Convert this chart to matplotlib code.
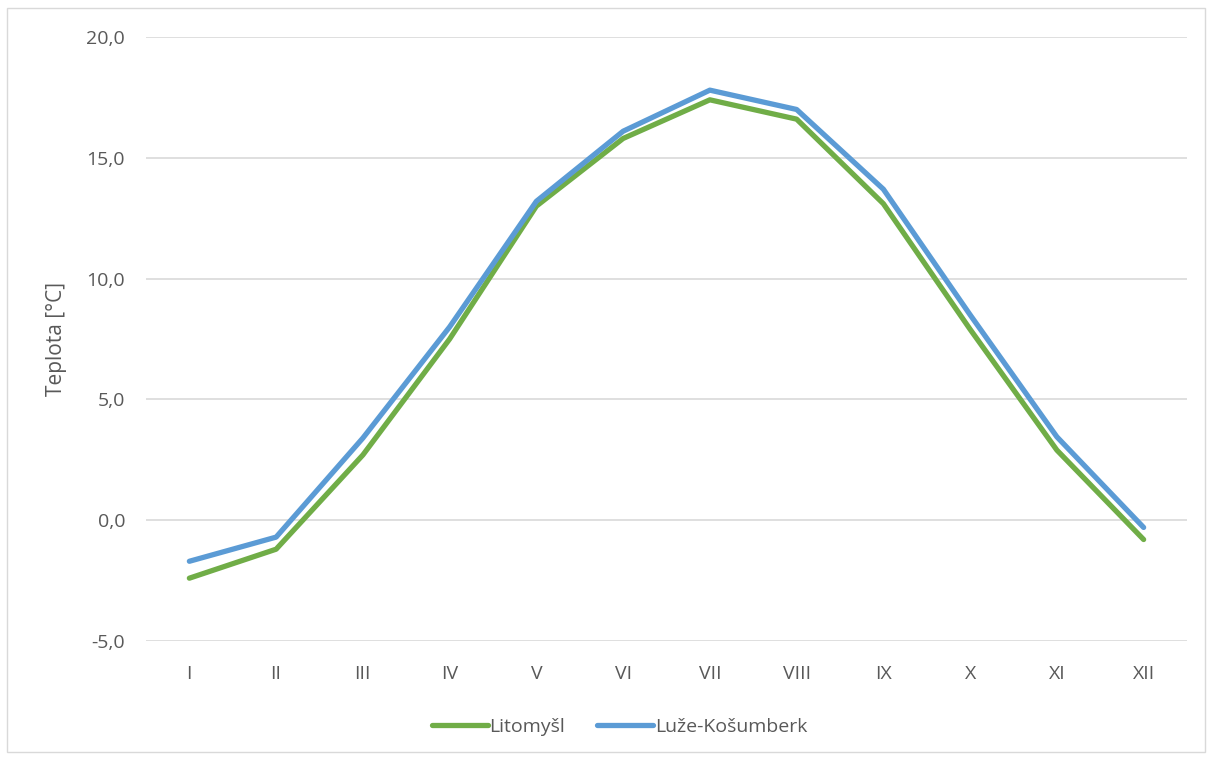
import matplotlib
matplotlib.use("Agg")
import matplotlib.pyplot as plt
from matplotlib.patches import Rectangle
from matplotlib.ticker import FuncFormatter

# ── data ──────────────────────────────────────────────────────────────────────

months = ["I", "II", "III", "IV", "V", "VI", "VII", "VIII", "IX", "X", "XI", "XII"]
litomysl = [-2.4, -1.2, 2.7, 7.5, 13.0, 15.8, 17.4, 16.6, 13.1, 7.9, 2.9, -0.8]
luze = [-1.7, -0.7, 3.4, 8.0, 13.2, 16.1, 17.8, 17.0, 13.7, 8.5, 3.45, -0.3]
yticks = [-5, 0, 5, 10, 15, 20]

text_col = "#595959"
plt.rcParams["font.family"] = ["Open Sans", "DejaVu Sans"]

# ── plot ──────────────────────────────────────────────────────────────────────

fig = plt.figure(figsize=(12.12, 7.58), dpi=100)
ax = fig.add_axes([146 / 1212, 1 - 641 / 758, (1187 - 146) / 1212, (641 - 37) / 758])

x = range(len(months))
ax.plot(x, litomysl, color="#70ad47", linewidth=3.8, solid_capstyle="round",
        solid_joinstyle="round", label="Litomyšl", zorder=3)
ax.plot(x, luze, color="#5b9bd5", linewidth=3.8, solid_capstyle="round",
        solid_joinstyle="round", label="Luže-Košumberk", zorder=3)

ax.set_xlim(-0.5, len(months) - 0.5)
ax.set_ylim(-5, 20)
ax.set_yticks(yticks)
ax.yaxis.set_major_formatter(FuncFormatter(lambda v, p: f"{v:.1f}".replace(".", ",")))
ax.set_xticks(list(x))
ax.set_xticklabels(months)
ax.tick_params(length=0, labelsize=14, colors=text_col)
ax.tick_params(axis="y", pad=15)
ax.tick_params(axis="x", pad=17)
ax.grid(axis="y", color="#d9d9d9", linewidth=1.2)
ax.set_axisbelow(True)
for s in ax.spines.values():
    s.set_visible(False)

ax.set_ylabel("Teplota [°C]", fontsize=15, color=text_col, labelpad=14)

leg = ax.legend(loc="center", bbox_to_anchor=(0.455, -0.142), ncol=2, frameon=False,
                fontsize=14, handlelength=2.85, handletextpad=0.1, columnspacing=1.65)
for t in leg.get_texts():
    t.set_color(text_col)

fig.patches.append(Rectangle((7 / 1212, 1 - 752 / 758), 1198 / 1212, 744 / 758,
                             transform=fig.transFigure, fill=False,
                             edgecolor="#d9d9d9", linewidth=1))

fig.savefig("out.png", dpi=100)
